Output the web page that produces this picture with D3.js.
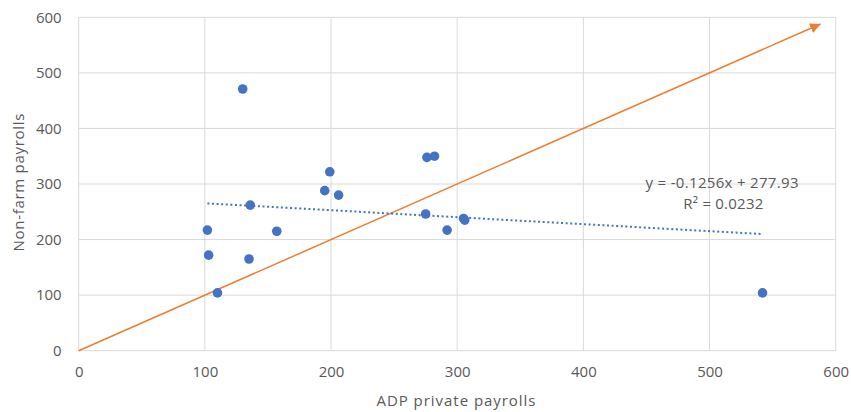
<!DOCTYPE html>
<html>
<head>
<meta charset="utf-8">
<script src="https://cdn.jsdelivr.net/npm/d3@7"></script>
<style>
  html, body { margin: 0; padding: 0; background: #fff; }
  svg text { font-family: "Open Sans", "Noto Sans", sans-serif; fill: #595959; }
</style>
</head>
<body>
<svg id="chart" width="851" height="412"></svg>
<script>
// ADP private payrolls vs. non-farm payrolls (thousands)
const adpPayrolls = [130, 276, 282, 199, 195, 206, 136, 275, 305, 306, 102, 157, 292, 103, 135, 110, 542];
const nonFarmPayrolls = [471, 348, 350, 322, 288, 280, 262, 246, 238, 235, 217, 215, 217, 172, 165, 104, 104];

const xTicks = [0, 100, 200, 300, 400, 500, 600];
const yTicks = [0, 100, 200, 300, 400, 500, 600];

// Linear trendline as reported in the label
const trendSlope = -0.1256;
const trendIntercept = 277.93;
const trendEquation = "y = -0.1256x + 277.93";
const trendR2 = "R² = 0.0232";

// Reference line y = x, drawn as an arrow
const refStart = [0, 0];
const refEnd = [588, 588];

const svg = d3.select("#chart");
const plotLeft = 78.7, plotRight = 835.7, plotTop = 17.3, plotBottom = 350.7;

const x = d3.scaleLinear().domain([0, 600]).range([plotLeft, plotRight]);
const y = d3.scaleLinear().domain([0, 600]).range([plotBottom, plotTop]);

const gridColor = "#d9d9d9";
const blue = "#4472C4";
const orange = "#ED7D31";
const textSize = "15px";

// Gridlines
svg.append("g")
  .selectAll("line").data(xTicks).join("line")
  .attr("x1", d => x(d)).attr("x2", d => x(d))
  .attr("y1", plotTop).attr("y2", plotBottom)
  .attr("stroke", gridColor).attr("stroke-width", 1);
svg.append("g")
  .selectAll("line").data(yTicks).join("line")
  .attr("x1", plotLeft).attr("x2", plotRight)
  .attr("y1", d => y(d)).attr("y2", d => y(d))
  .attr("stroke", gridColor).attr("stroke-width", 1);

// Axes (labels only, lines are the gridlines)
const xAxis = svg.append("g")
  .attr("transform", `translate(0,${plotBottom})`)
  .call(d3.axisBottom(x).tickValues(xTicks).tickSize(0).tickPadding(16));
xAxis.select(".domain").remove();
xAxis.selectAll("text").style("font-size", textSize).attr("fill", "#595959");

const yAxis = svg.append("g")
  .attr("transform", `translate(${plotLeft},0)`)
  .call(d3.axisLeft(y).tickValues(yTicks).tickSize(0).tickPadding(17));
yAxis.select(".domain").remove();
yAxis.selectAll("text").style("font-size", textSize).attr("fill", "#595959");

// Axis titles
svg.append("text")
  .attr("x", 456).attr("y", 402)
  .attr("text-anchor", "middle").attr("dominant-baseline", "middle")
  .attr("textLength", 159).attr("lengthAdjust", "spacing")
  .style("font-size", textSize)
  .text("ADP private payrolls");
svg.append("text")
  .attr("transform", "translate(19.5,182.5) rotate(-90)")
  .attr("text-anchor", "middle").attr("dominant-baseline", "middle")
  .attr("textLength", 138).attr("lengthAdjust", "spacing")
  .style("font-size", textSize)
  .text("Non-farm payrolls");

// Arrow marker
svg.append("defs").append("marker")
  .attr("id", "arrow")
  .attr("viewBox", "0 0 10 10")
  .attr("refX", 10).attr("refY", 5)
  .attr("markerWidth", 7).attr("markerHeight", 7)
  .attr("markerUnits", "strokeWidth")
  .attr("orient", "auto")
  .append("path")
  .attr("d", "M0,0 L10,5 L0,10 Z")
  .attr("fill", orange);

// Reference line
svg.append("line")
  .attr("x1", x(refStart[0])).attr("y1", y(refStart[1]))
  .attr("x2", x(refEnd[0])).attr("y2", y(refEnd[1]))
  .attr("stroke", orange).attr("stroke-width", 1.5)
  .attr("marker-end", "url(#arrow)");

// Trendline over the data's x range
const [xMin, xMax] = d3.extent(adpPayrolls);
svg.append("line")
  .attr("x1", x(xMin)).attr("y1", y(trendSlope * xMin + trendIntercept))
  .attr("x2", x(xMax)).attr("y2", y(trendSlope * xMax + trendIntercept))
  .attr("stroke", blue).attr("stroke-width", 2)
  .attr("stroke-dasharray", "2 2.6");

// Data points
svg.append("g")
  .selectAll("circle").data(adpPayrolls.map((d, i) => [d, nonFarmPayrolls[i]])).join("circle")
  .attr("cx", d => x(d[0])).attr("cy", d => y(d[1]))
  .attr("r", 4.8)
  .attr("fill", blue);

// Trendline label
svg.append("text")
  .attr("x", 722).attr("y", 184)
  .attr("text-anchor", "middle").attr("dominant-baseline", "middle")
  .attr("textLength", 153).attr("lengthAdjust", "spacing")
  .style("font-size", textSize)
  .text(trendEquation);
svg.append("text")
  .attr("x", 723.3).attr("y", 205)
  .attr("text-anchor", "middle").attr("dominant-baseline", "middle")
  .attr("textLength", 80).attr("lengthAdjust", "spacing")
  .style("font-size", textSize)
  .text(trendR2);
</script>
</body>
</html>
